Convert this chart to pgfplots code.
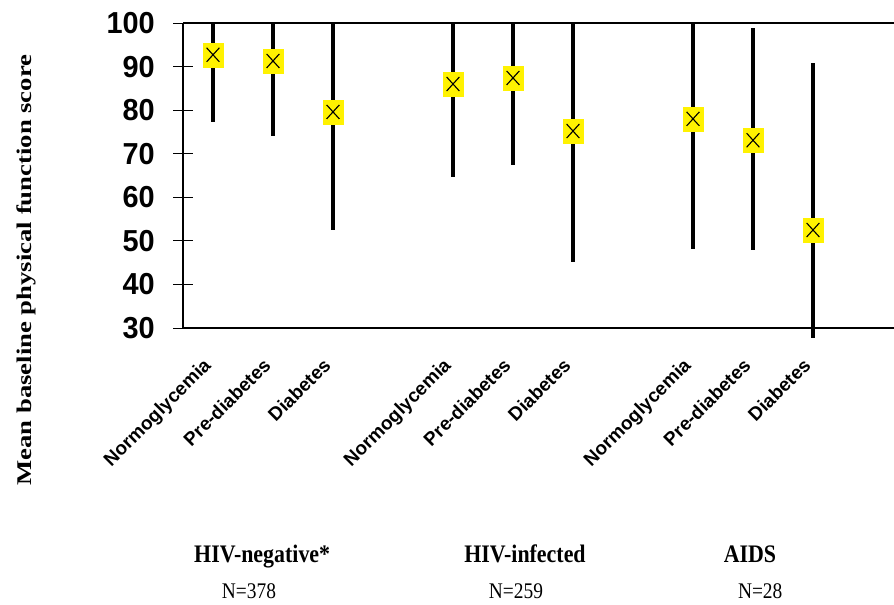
\documentclass[border=0pt]{standalone}
\usepackage{fontspec}
\setmainfont{Liberation Serif}
\setsansfont{Liberation Sans}
\usepackage{pgfplots}
\pgfplotsset{compat=1.18}
\pgfplotstableread{
x y ep em
1 92.7 7.3 15.4
2 91.3 8.7 17.2
3 79.6 20.4 27.1
5 86.0 14.0 21.3
6 87.4 12.6 20.0
7 75.2 24.8 30.1
9 78.0 22.0 29.9
10 73.1 25.8 25.2
11 52.5 38.3 24.8
}\datatable
\begin{document}
\begin{tikzpicture}
\path[use as bounding box] (0,0) rectangle (894bp,605bp);
\begin{axis}[
  at={(183bp,277bp)}, anchor=south west,
  x=60bp, y=4.357bp,
  xmin=0.5, xmax=12.35, ymin=30, ymax=100,
  clip=false,
  axis line style={draw=none},
  ytick={30,40,...,100},
  ytick pos=left,
  tick align=center,
  major tick length=20bp,
  every tick/.style={black, line width=0.8bp},
  yticklabel={\scalebox{1}[1.05]{\pgfmathprintnumber{\tick}}},
  yticklabel style={font=\fontsize{29}{29}\selectfont\sffamily\bfseries, anchor=east, inner xsep=0pt, xshift=-18bp},
  /pgf/number format/assume math mode=true,
  xtick={1,2,3,5,6,7,9,10,11},
  xticklabels={Normoglycemia,Pre-diabetes,Diabetes,Normoglycemia,Pre-diabetes,Diabetes,Normoglycemia,Pre-diabetes,Diabetes},
  xtick pos=bottom,
  xtick style={draw=none},
  xticklabel style={rotate=45, anchor=north east, font=\fontsize{19}{19}\selectfont\sffamily\bfseries, inner sep=0pt, xshift=-21bp, yshift=-5.5bp},
]
\draw[line width=1.4bp] (rel axis cs:0,0) -- (rel axis cs:0,1);
\draw[line width=1.4bp] (rel axis cs:0,0) -- (rel axis cs:1,0);
\draw[line width=1.4bp] (rel axis cs:0,1) -- (rel axis cs:1,1);
\addplot[draw=none, mark=none, forget plot,
  error bars/.cd, y dir=both, y explicit, error mark=none,
  error bar style={draw=black, line width=3.8bp}]
  table[x=x, y=y, y error plus=ep, y error minus=em] {\datatable};
\addplot[only marks, mark=square*, mark size=10bp,
  mark options={fill=yellow, draw=yellow, yscale=1.2}]
  table[x=x, y=y] {\datatable};
\addplot[only marks, mark=x, mark size=9bp,
  mark options={draw=black, line width=1.1bp, yscale=1.1}]
  table[x=x, y=y] {\datatable};
\node[anchor=base, font=\fontsize{22}{22}\selectfont\bfseries] at (axis cs:1.82,-23.9) {\scalebox{1}[1.15]{HIV-negative*}};
\node[anchor=base, font=\fontsize{22}{22}\selectfont\bfseries] at (axis cs:6.2,-23.9) {\scalebox{1}[1.15]{HIV-infected}};
\node[anchor=base, font=\fontsize{22}{22}\selectfont\bfseries] at (axis cs:9.95,-23.9) {\scalebox{1}[1.15]{AIDS}};
\node[anchor=base, font=\fontsize{19.5}{19.5}\selectfont] at (axis cs:1.6,-32.0) {\scalebox{1}[1.15]{N=378}};
\node[anchor=base, font=\fontsize{19.5}{19.5}\selectfont] at (axis cs:6.05,-32.0) {\scalebox{1}[1.15]{N=259}};
\node[anchor=base, font=\fontsize{19.5}{19.5}\selectfont] at (axis cs:10.12,-32.0) {\scalebox{1}[1.15]{N=28}};
\node[rotate=90, font=\fontsize{21}{21}\selectfont\bfseries] at (axis cs:-2.117,43.3) {\scalebox{1.275}[1]{Mean baseline physical function score}};
\end{axis}
\end{tikzpicture}
\end{document}
